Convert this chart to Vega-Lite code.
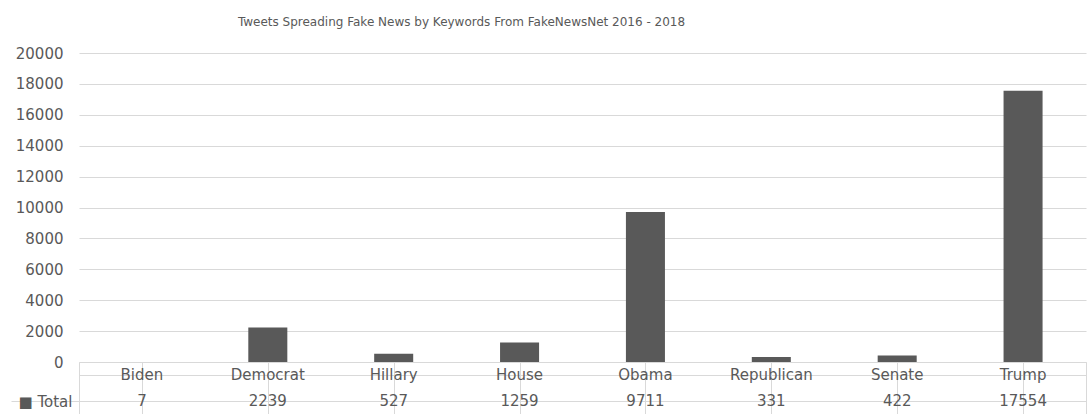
{
  "$schema": "https://vega.github.io/schema/vega-lite/v6.json",
  "padding": {"left": 10, "top": 16, "right": 4, "bottom": 0},
  "config": {"font": "DejaVu Sans", "view": {"stroke": null}, "concat": {"spacing": 0}},
  "data": {"values": [
    {"keyword": "Biden", "total": 7},
    {"keyword": "Democrat", "total": 2239},
    {"keyword": "Hillary", "total": 527},
    {"keyword": "House", "total": 1259},
    {"keyword": "Obama", "total": 9711},
    {"keyword": "Republican", "total": 331},
    {"keyword": "Senate", "total": 422},
    {"keyword": "Trump", "total": 17554}
  ]},
  "spacing": 0,
  "bounds": "flush",
  "vconcat": [
    {
      "width": 1007,
      "height": 309,
      "title": {"text": "Tweets Spreading Fake News by Keywords From FakeNewsNet 2016 - 2018", "fontSize": 12, "fontWeight": "normal", "color": "#595959", "offset": 17, "dx": -121, "anchor": "middle", "font": "DejaVu Sans"},
      "mark": {"type": "bar", "color": "#595959", "width": {"band": 0.31}},
      "encoding": {
        "x": {"field": "keyword", "type": "nominal", "scale": {"paddingInner": 0, "paddingOuter": 0}, "axis": null},
        "y": {"field": "total", "type": "quantitative", "scale": {"domain": [0, 20000], "nice": false},
          "axis": {"values": [0, 2000, 4000, 6000, 8000, 10000, 12000, 14000, 16000, 18000, 20000], "format": "d", "title": null, "domain": false, "ticks": false, "tickSize": 0, "labelPadding": 16, "labelFontSize": 15, "labelColor": "#595959", "gridColor": "#d9d9d9", "labelFont": "DejaVu Sans"}}
      }
    },
    {
      "width": 1007,
      "height": 52,
      "view": {"stroke": "#d9d9d9"},
      "encoding": {
        "x": {"field": "keyword", "type": "nominal", "scale": {"paddingInner": 0, "paddingOuter": 0},
          "axis": {"bandPosition": 0, "grid": true, "gridColor": "#d9d9d9", "labels": false, "ticks": false, "domain": false, "title": null}}
      },
      "layer": [
        {
          "mark": {"type": "text", "fontSize": 15, "color": "#595959", "font": "DejaVu Sans"},
          "encoding": {
            "y": {"datum": "Keyword", "type": "nominal", "scale": {"domain": ["Keyword", "Total"], "paddingInner": 0, "paddingOuter": 0},
              "axis": {"title": null, "bandPosition": 0, "grid": true, "gridColor": "#d9d9d9", "domain": false, "tickSize": 68, "tickColor": "#d9d9d9",
                "tickOpacity": {"condition": {"test": "datum.value === 'Total'", "value": 1}, "value": 0},
                "labelExpr": "datum.value === 'Total' ? '■ Total' : ''", "labelAlign": "left", "labelPadding": -7, "labelBaseline": "middle", "labelOffset": 0, "labelFontSize": 15, "labelColor": "#595959", "labelFont": "DejaVu Sans"}},
            "text": {"field": "keyword"}
          }
        },
        {
          "mark": {"type": "text", "fontSize": 15, "color": "#595959", "font": "DejaVu Sans"},
          "encoding": {
            "y": {"datum": "Total", "type": "nominal"},
            "text": {"field": "total"}
          }
        }
      ]
    }
  ]
}
